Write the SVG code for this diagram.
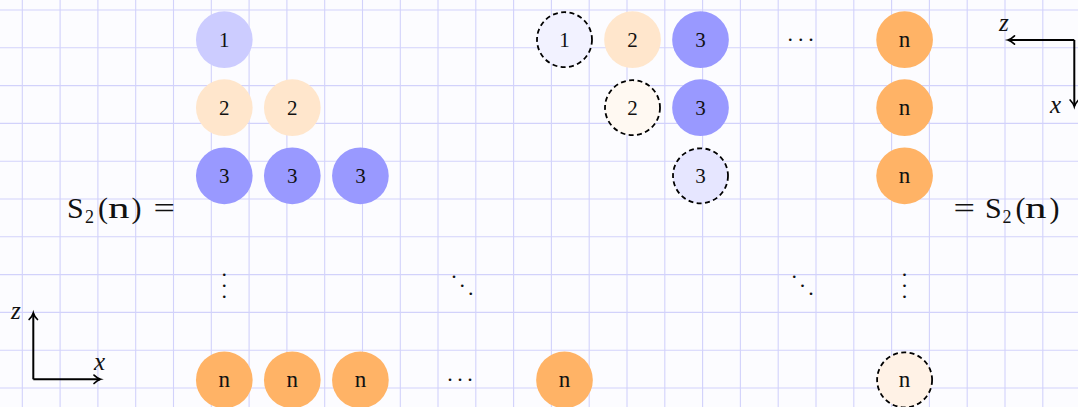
<svg xmlns="http://www.w3.org/2000/svg" width="1078" height="407" viewBox="0 0 1078 407">
  <defs>
    <style>
      .grid { stroke: #d2d2fb; stroke-width: 1.1; fill: none; }
      .dash { stroke: #000; stroke-width: 1.8; stroke-dasharray: 5 3.4; }
      .lbl { font-family: "Liberation Serif", serif; font-size: 21px; text-anchor: middle; fill: #111; }
      .nl { font-family: "Liberation Serif", serif; font-size: 23px; text-anchor: middle; fill: #111; }
      .big { font-family: "Liberation Serif", serif; font-size: 30px; fill: #111; }
      .sub { font-family: "Liberation Serif", serif; font-size: 18px; fill: #111; }
      .ax { font-family: "Liberation Serif", serif; font-style: italic; font-size: 25px; fill: #111; }
      .dots { font-family: "Liberation Serif", serif; font-size: 22px; fill: #111; text-anchor: middle; }
      .axis { stroke: #000; stroke-width: 2; fill: none; marker-end: url(#arr); }
      .b20 { fill: #ccccff; }
      .b40 { fill: #9999ff; }
      .o20 { fill: #ffe6cc; }
      .o60 { fill: #ffb366; }
    </style>
    <marker id="arr" markerUnits="userSpaceOnUse" markerWidth="14" markerHeight="14" refX="0" refY="0" viewBox="-8 -7 10 14" orient="auto" overflow="visible">
      <path d="M-6,-4.2 C-3.5,-1.8 -1.2,-0.5 0.6,0 C-1.2,0.5 -3.5,1.8 -6,4.2" stroke="#000" stroke-width="1.7" fill="none" stroke-linecap="round"/>
    </marker>
  </defs>

  <rect x="0" y="0" width="1078" height="407" fill="#fcfcff"/>
  <g id="grid">
    <path class="grid" d="M22.3,0V407 M60.1,0V407 M97.9,0V407 M135.7,0V407 M173.5,0V407 M211.3,0V407 M249.1,0V407 M286.9,0V407 M324.7,0V407 M362.5,0V407 M400.3,0V407 M438.0,0V407 M475.8,0V407 M513.6,0V407 M551.4,0V407 M589.2,0V407 M627.0,0V407 M664.8,0V407 M702.6,0V407 M740.4,0V407 M778.2,0V407 M816.0,0V407 M853.8,0V407 M891.6,0V407 M929.4,0V407 M967.2,0V407 M1005.0,0V407 M1042.8,0V407"/>
    <path class="grid" d="M0,10H1078 M0,47.8H1078 M0,85.6H1078 M0,123.4H1078 M0,161.2H1078 M0,199H1078 M0,236.8H1078 M0,274.6H1078 M0,312.4H1078 M0,350.2H1078 M0,388H1078"/>
  </g>

  <!-- Left triangle -->
  <g id="L1"><circle class="b20" cx="224.3" cy="39.7" r="28.35"/><text class="lbl" x="224.3" y="47">1</text></g>
  <g id="L2a"><circle class="o20" cx="224.3" cy="107.7" r="28.35"/><text class="lbl" x="224.3" y="115">2</text></g>
  <g id="L2b"><circle class="o20" cx="292.3" cy="107.7" r="28.35"/><text class="lbl" x="292.3" y="115">2</text></g>
  <g id="L3a"><circle class="b40" cx="224.3" cy="175.8" r="28.35"/><text class="lbl" x="224.3" y="183.1">3</text></g>
  <g id="L3b"><circle class="b40" cx="292.3" cy="175.8" r="28.35"/><text class="lbl" x="292.3" y="183.1">3</text></g>
  <g id="L3c"><circle class="b40" cx="360.4" cy="175.8" r="28.35"/><text class="lbl" x="360.4" y="183.1">3</text></g>
  <g id="Lna"><circle class="o60" cx="224.3" cy="379.9" r="28.35"/><text class="nl" x="224.3" y="386.9">n</text></g>
  <g id="Lnb"><circle class="o60" cx="292.3" cy="379.9" r="28.35"/><text class="nl" x="292.3" y="386.9">n</text></g>
  <g id="Lnc"><circle class="o60" cx="360.4" cy="379.9" r="28.35"/><text class="nl" x="360.4" y="386.9">n</text></g>
  <g id="Lnd"><circle class="o60" cx="564.5" cy="379.9" r="28.35"/><text class="nl" x="564.5" y="386.9">n</text></g>

  <!-- Right triangle -->
  <g id="R1d"><circle class="dash" fill="#f2f2ff" cx="564.5" cy="39.7" r="27.5"/><text class="lbl" x="564.5" y="47">1</text></g>
  <g id="R2"><circle class="o20" cx="632.5" cy="39.7" r="28.35"/><text class="lbl" x="632.5" y="47">2</text></g>
  <g id="R3a"><circle class="b40" cx="700.5" cy="39.7" r="28.35"/><text class="lbl" x="700.5" y="47">3</text></g>
  <g id="Rna"><circle class="o60" cx="904.6" cy="39.7" r="28.35"/><text class="nl" x="904.6" y="46.7">n</text></g>
  <g id="R2d"><circle class="dash" fill="#fff9f2" cx="632.5" cy="107.7" r="27.5"/><text class="lbl" x="632.5" y="115">2</text></g>
  <g id="R3b"><circle class="b40" cx="700.5" cy="107.7" r="28.35"/><text class="lbl" x="700.5" y="115">3</text></g>
  <g id="Rnb"><circle class="o60" cx="904.6" cy="107.7" r="28.35"/><text class="nl" x="904.6" y="114.7">n</text></g>
  <g id="R3d"><circle class="dash" fill="#e6e6ff" cx="700.5" cy="175.8" r="27.5"/><text class="lbl" x="700.5" y="183.1">3</text></g>
  <g id="Rnc"><circle class="o60" cx="904.6" cy="175.8" r="28.35"/><text class="nl" x="904.6" y="182.8">n</text></g>
  <g id="Rnd"><circle class="dash" fill="#fff2e6" cx="904.6" cy="379.9" r="27.5"/><text class="nl" x="904.6" y="386.9">n</text></g>

  <!-- dots -->
  <g id="dots">
    <text class="dots" x="224.3 224.3 224.3" y="275.5 286.5 297.5">...</text>
    <text class="dots" x="904.6 904.6 904.6" y="275.5 286.5 297.5">...</text>
    <text class="dots" x="454 462.3 470.7" y="278.2 286.5 294.8">...</text>
    <text class="dots" x="794.3 802.6 811" y="278.2 286.5 294.8">...</text>
    <text class="dots" x="450 460 470" y="380.8">...</text>
    <text class="dots" x="790.3 800.7 811.1" y="40.8">...</text>
  </g>

  <!-- equation labels -->
  <g id="lhs">
    <text class="big" x="67" y="218">S</text>
    <text class="sub" x="85" y="223">2</text>
    <text class="big" x="98" y="218">(</text>
    <text class="big" x="108" y="218" textLength="21.5" lengthAdjust="spacingAndGlyphs">n</text>
    <text class="big" x="131.5" y="218">)</text>
    <text class="big" x="153.5" y="218" textLength="21.5" lengthAdjust="spacingAndGlyphs">=</text>
  </g>
  <g id="rhs">
    <text class="big" x="953.5" y="218" textLength="21.5" lengthAdjust="spacingAndGlyphs">=</text>
    <text class="big" x="985" y="218">S</text>
    <text class="sub" x="1002.5" y="223">2</text>
    <text class="big" x="1015.5" y="218">(</text>
    <text class="big" x="1025" y="218" textLength="21.5" lengthAdjust="spacingAndGlyphs">n</text>
    <text class="big" x="1049.5" y="218">)</text>
  </g>

  <!-- axes -->
  <g id="connectors">
    <path class="axis" d="M33.3,379.3V313.5"/>
    <path class="axis" d="M33.3,379.3H100"/>
    <path class="axis" d="M1074.3,40H1008.5"/>
    <path class="axis" d="M1074.3,40V106"/>
  </g>
  <g id="axlabels">
    <text class="ax" x="11" y="319">z</text>
    <text class="ax" x="94" y="370">x</text>
    <text class="ax" x="999" y="31">z</text>
    <text class="ax" x="1050" y="113">x</text>
  </g>
</svg>
